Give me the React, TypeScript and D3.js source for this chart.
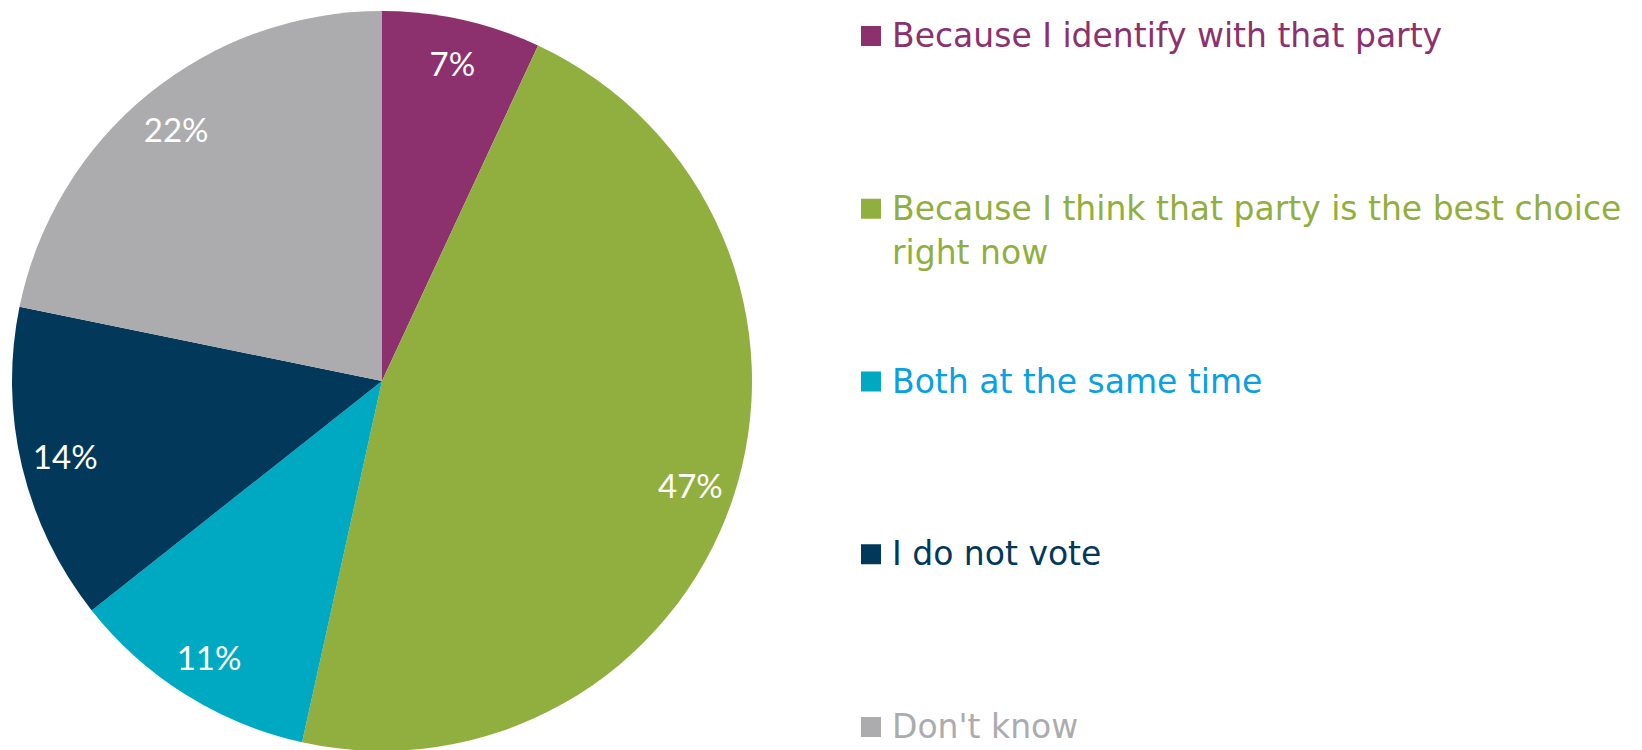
import React from "react";
import * as d3 from "d3";

const categories = [
  "Because I identify with that party",
  "Because I think that party is the best choice right now",
  "Both at the same time",
  "I do not vote",
  "Don't know",
];
const legendLines = [
  ["Because I identify with that party"],
  ["Because I think that party is the best choice", "right now"],
  ["Both at the same time"],
  ["I do not vote"],
  ["Don't know"],
];
const values = [7, 47, 11, 14, 22];
const sliceColors = ["#8C316E", "#91AF3F", "#00A9C2", "#02385A", "#ACACAE"];
const textColors = ["#8C316E", "#91AF3F", "#0AA0E2", "#02385A", "#ACACAE"];

const W = 1642;
const H = 750;
const cx = 382;
const cy = 381;
const R = 370;

export default function App() {
  const pie = d3.pie<number>().sort(null).value((d) => d);
  const arcs = pie(values);
  const arc = d3.arc<d3.PieArcDatum<number>>().innerRadius(0).outerRadius(R);
  const labelArc = d3
    .arc<d3.PieArcDatum<number>>()
    .innerRadius(R * 0.88)
    .outerRadius(R * 0.88);

  const legendY = d3
    .scalePoint<number>()
    .domain(d3.range(categories.length))
    .range([47, 738]);

  return (
    <svg
      width={W}
      height={H}
      style={{ position: "absolute", left: 0, top: 0, background: "#fff" }}
    >
      <g transform={`translate(${cx},${cy})`}>
        {arcs.map((a, i) => (
          <path key={i} d={arc(a) || ""} fill={sliceColors[i]} />
        ))}
        {arcs.map((a, i) => {
          const [x, y] = labelArc.centroid(a);
          return (
            <text
              key={"l" + i}
              x={x}
              y={y}
              textAnchor="middle"
              dominantBaseline="central"
              fill="#fff"
              style={{ fontFamily: "Lato, 'Open Sans', sans-serif", fontSize: 33 }}
            >
              {values[i]}%
            </text>
          );
        })}
      </g>
      <g>
        {categories.map((c, i) => {
          const base = legendY(i) as number;
          return (
            <g key={"lg" + i}>
              <rect x={861} y={base - 21} width={20} height={20} fill={sliceColors[i]} />
              <text
                x={892}
                y={base}
                fill={textColors[i]}
                style={{
                  fontFamily: "'DejaVu Sans', sans-serif",
                  fontSize: 33,
                }}
              >
                {legendLines[i].map((ln, j) => (
                  <tspan key={j} x={892} dy={j === 0 ? 0 : 44}>
                    {ln}
                  </tspan>
                ))}
              </text>
            </g>
          );
        })}
      </g>
    </svg>
  );
}
